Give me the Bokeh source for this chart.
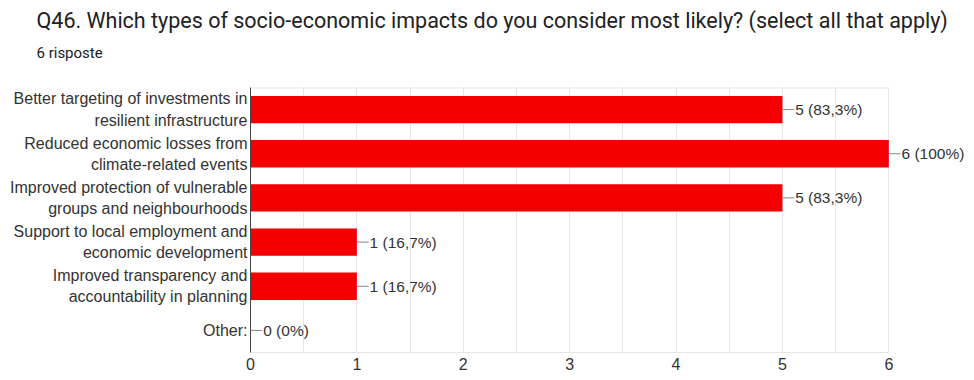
from bokeh.plotting import figure
from bokeh.models import (ColumnDataSource, Range1d, FixedTicker,
                          LabelSet, Arrow, Title)
from bokeh.core.properties import value
from bokeh.embed import file_html
from bokeh.resources import INLINE

title_text = "Q46. Which types of socio-economic impacts do you consider most likely? (select all that apply)"
subtitle_text = "6 risposte"
total_responses = 6
categories = [
    "Better targeting of investments in\nresilient infrastructure",
    "Reduced economic losses from\nclimate-related events",
    "Improved protection of vulnerable\ngroups and neighbourhoods",
    "Support to local employment and\neconomic development",
    "Improved transparency and\naccountability in planning",
    "Other:",
]
counts = [5, 6, 5, 1, 1, 0]
x_ticks = [0, 1, 2, 3, 4, 5, 6]
x_minor_ticks = [0.5, 1.5, 2.5, 3.5, 4.5, 5.5]


def fmt_label(v):
    pct = round(v / total_responses * 100, 1)
    if pct == int(pct):
        s = f"{int(pct)}%"
    else:
        s = f"{pct:.1f}%".replace(".", ",")
    return f"{v} ({s})"


n = len(categories)
ypos = [n - i - 0.5 for i in range(n)]
labels = [fmt_label(v) for v in counts]
conn_len = 0.11
src = ColumnDataSource(dict(
    y=ypos, val=counts, lab=labels,
    xe=[v + conn_len for v in counts],
))

FONT = "Liberation Sans"
TXT = "#333333"
GRID = "#e6e6e6"

p = figure(width=966, height=372, output_backend="svg", toolbar_location=None,
           y_range=Range1d(0, n), x_range=Range1d(0, 6.73),
           min_border_left=250, min_border_right=0, min_border_bottom=0,
           min_border_top=0)
p.outline_line_color = None

p.hbar(y="y", right="val", height=0.62, source=src, color="#f40000", line_color=None)

# top border of the chart area
p.segment(x0=[x_ticks[0]], x1=[x_ticks[-1]], y0=[n], y1=[n], line_color=GRID, line_width=2)

arrows = Arrow(end=None, x_start="val", y_start="y", x_end="xe", y_end="y",
               source=src, line_color="#888888", line_width=1)
p.add_layout(arrows)
ls = LabelSet(x="xe", y="y", text="lab", source=src, x_offset=1,
              text_font=value(FONT), text_font_size="15.5px",
              text_color=TXT, text_baseline="middle", text_align="left")
p.add_layout(ls)

# spacer between subtitle and chart area
p.add_layout(Title(text=" ", text_font_size="2px", standoff=19), "above")
p.add_layout(Title(text=subtitle_text, align="left", text_font="Roboto",
                   text_font_size="15px", text_font_style="normal",
                   text_color="#202124", offset=-214, standoff=6), "above")
p.add_layout(Title(text=title_text, align="left", text_font="Roboto",
                   text_font_size="21.5px", text_font_style="normal",
                   text_color="#202124", offset=-214, standoff=11), "above")

p.xaxis.ticker = FixedTicker(ticks=x_ticks, minor_ticks=x_minor_ticks)
p.xaxis.bounds = (x_ticks[0], x_ticks[-1])
p.xaxis.axis_label = None
p.xaxis.axis_line_color = GRID
p.xaxis.major_tick_line_color = None
p.xaxis.minor_tick_line_color = None
p.xaxis.major_tick_out = 0
p.xaxis.major_label_standoff = 1
p.xaxis.major_label_text_font = FONT
p.xaxis.major_label_text_font_size = "16px"
p.xaxis.major_label_text_color = TXT

p.yaxis.ticker = FixedTicker(ticks=ypos)
p.yaxis.major_label_overrides = {y: c for y, c in zip(ypos, categories)}
p.yaxis.axis_line_color = "#444444"
p.yaxis.major_tick_line_color = None
p.yaxis.minor_tick_line_color = None
p.yaxis.major_tick_out = 0
p.yaxis.major_label_standoff = 3
p.yaxis.major_label_text_font = FONT
p.yaxis.major_label_text_font_size = "16px"
p.yaxis.major_label_text_color = TXT
p.yaxis.major_label_text_line_height = 1.25

p.xgrid.grid_line_color = GRID
p.xgrid.minor_grid_line_color = GRID
p.ygrid.grid_line_color = None

open("out.html", "w").write(file_html(p, INLINE))
